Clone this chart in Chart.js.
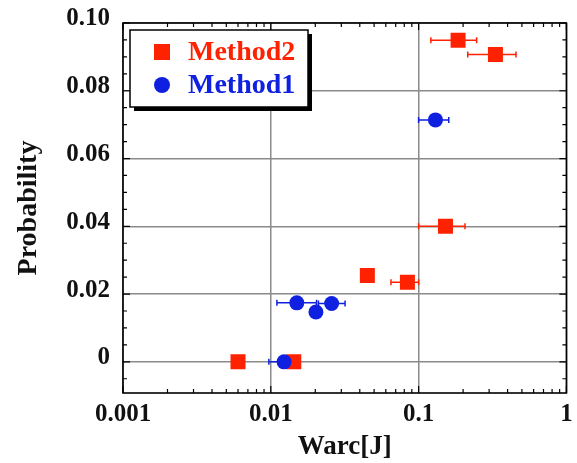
<!DOCTYPE html>
<html>
<head>
<meta charset="utf-8">
<script src="https://cdn.jsdelivr.net/npm/chart.js@4.4.0/dist/chart.umd.min.js"></script>
<style>
html, body { margin: 0; padding: 0; background: #fff; }
</style>
</head>
<body>
<canvas id="chart" width="577" height="463"></canvas>
<script>
// values
const method2X = [0.006, 0.0143, 0.045, 0.084, 0.152, 0.185, 0.331];
const method2Y = [0, 0, 0.0255, 0.0235, 0.040, 0.0949, 0.0907];
const method2XLow = [null, null, null, 0.065, 0.1, 0.121, 0.215];
const method2XHigh = [null, null, null, 0.1, 0.206, 0.247, 0.456];

const method1X = [0.0123, 0.0150, 0.0202, 0.0258, 0.130];
const method1Y = [0, 0.0174, 0.0147, 0.0172, 0.0714];
const method1XLow = [0.0097, 0.011, null, 0.021, 0.1];
const method1XHigh = [0.0155, 0.0204, null, 0.0318, 0.160];

const xTickValues = [0.001, 0.01, 0.1, 1];
const xTickLabels = ['0.001', '0.01', '0.1', '1'];
const yTickValues = [0, 0.02, 0.04, 0.06, 0.08, 0.10];
const yTickLabels = ['0', '0.02', '0.04', '0.06', '0.08', '0.10'];

const RED = '#ff2200';
const BLUE = '#1020e0';
const SERIF = "'Times New Roman', 'Liberation Serif', serif";

function toPoints(xs, ys, lo, hi) {
    return xs.map((x, i) => ({ x: x, y: ys[i], xLow: lo[i], xHigh: hi[i] }));
}

// horizontal error bars, drawn under the markers
const errorBars = {
    id: 'errorBars',
    beforeDatasetsDraw(chart) {
        const ctx = chart.ctx;
        const xs = chart.scales.x, ys = chart.scales.y;
        chart.data.datasets.forEach(ds => {
            ctx.save();
            ctx.strokeStyle = ds.borderColor;
            ctx.lineWidth = 1.5;
            ds.data.forEach(p => {
                const py = ys.getPixelForValue(p.y);
                const px = xs.getPixelForValue(p.x);
                [p.xLow, p.xHigh].forEach(v => {
                    if (v == null) return;
                    const ex = xs.getPixelForValue(v);
                    ctx.beginPath();
                    ctx.moveTo(px, py);
                    ctx.lineTo(ex, py);
                    ctx.moveTo(ex, py - 3);
                    ctx.lineTo(ex, py + 3);
                    ctx.stroke();
                });
            });
            ctx.restore();
        });
    }
};

// frame with inward ticks on all four sides
const frameTicks = {
    id: 'frameTicks',
    afterDraw(chart) {
        const ctx = chart.ctx;
        const a = chart.chartArea;
        const xs = chart.scales.x, ys = chart.scales.y;
        ctx.save();
        ctx.strokeStyle = '#000';
        ctx.lineWidth = 1.2;
        ctx.beginPath();
        for (let d = 0.001; d < 1; d *= 10) {
            for (let m = 1; m <= 10; m++) {
                const v = d * m;
                const len = (m === 1 || m === 10) ? 7 : 4;
                const px = xs.getPixelForValue(v);
                ctx.moveTo(px, a.bottom); ctx.lineTo(px, a.bottom - len);
                ctx.moveTo(px, a.top); ctx.lineTo(px, a.top + len);
            }
        }
        for (let k = -1; k <= 20; k++) {
            const v = k * 0.005;
            const len = (k % 4 === 0) ? 7 : 4;
            const py = ys.getPixelForValue(v);
            if (py > a.bottom || py < a.top) continue;
            ctx.moveTo(a.left, py); ctx.lineTo(a.left + len, py);
            ctx.moveTo(a.right, py); ctx.lineTo(a.right - len, py);
        }
        ctx.stroke();
        ctx.lineWidth = 1.6;
        ctx.strokeRect(a.left, a.top, a.right - a.left, a.bottom - a.top);
        ctx.restore();
    }
};

// boxed legend with shadow inside the plot
const boxLegend = {
    id: 'boxLegend',
    afterDraw(chart) {
        const ctx = chart.ctx;
        const bx = 130, by = 30, bw = 178, bh = 77;
        ctx.save();
        ctx.fillStyle = '#000';
        ctx.fillRect(bx + 4, by + 4, bw, bh);
        ctx.fillStyle = '#fff';
        ctx.fillRect(bx, by, bw, bh);
        ctx.strokeStyle = '#000';
        ctx.lineWidth = 1.5;
        ctx.strokeRect(bx, by, bw, bh);
        const order = [1, 0];
        order.forEach((di, row) => {
            const ds = chart.data.datasets[di];
            const cy = by + 22 + row * 33;
            ctx.fillStyle = ds.backgroundColor;
            ctx.beginPath();
            if (ds.pointStyle === 'rect') {
                ctx.rect(bx + 24, cy - 8, 16, 16);
            } else {
                ctx.arc(bx + 32, cy, 8, 0, Math.PI * 2);
            }
            ctx.fill();
            ctx.font = 'bold 28px ' + SERIF;
            ctx.textBaseline = 'middle';
            ctx.fillStyle = ds.borderColor;
            ctx.fillText(ds.label, bx + 58, cy + 1);
        });
        ctx.restore();
    }
};

new Chart(document.getElementById('chart'), {
    type: 'scatter',
    data: {
        datasets: [{
            label: 'Method1',
            data: toPoints(method1X, method1Y, method1XLow, method1XHigh),
            pointStyle: 'circle',
            pointRadius: 7.5,
            backgroundColor: BLUE,
            borderColor: BLUE,
            borderWidth: 0
        }, {
            label: 'Method2',
            data: toPoints(method2X, method2Y, method2XLow, method2XHigh),
            pointStyle: 'rect',
            pointRadius: 10.6,
            backgroundColor: RED,
            borderColor: RED,
            borderWidth: 0
        }]
    },
    options: {
        responsive: false,
        animation: false,
        devicePixelRatio: 1,
        layout: { padding: { top: 23, right: 9, left: 0, bottom: 0 } },
        plugins: {
            legend: { display: false },
            tooltip: { enabled: false }
        },
        scales: {
            x: {
                type: 'logarithmic',
                min: 0.001,
                max: 1,
                afterBuildTicks: s => { s.ticks = xTickValues.map(v => ({ value: v })); },
                afterFit: s => { s.height = 70; s.paddingLeft = 0; s.paddingRight = 0; },
                grid: { color: '#8a8a8a', lineWidth: 1.5, drawTicks: false },
                border: { display: false },
                ticks: {
                    padding: 7,
                    maxRotation: 0,
                    color: '#111',
                    font: { family: SERIF, size: 25, weight: 'bold' },
                    callback: (v, i) => xTickLabels[i]
                },
                title: {
                    display: true,
                    text: 'Warc[J]',
                    color: '#111',
                    padding: { top: 0, bottom: 0 },
                    font: { family: SERIF, size: 27, weight: 'bold' }
                }
            },
            y: {
                min: -0.0092,
                max: 0.1,
                afterBuildTicks: s => { s.ticks = yTickValues.map(v => ({ value: v })); },
                afterFit: s => { s.width = 123; s.paddingTop = 0; s.paddingBottom = 0; },
                grid: { color: '#8a8a8a', lineWidth: 1.5, drawTicks: false },
                border: { display: false },
                ticks: {
                    padding: 13,
                    labelOffset: -4,
                    color: '#111',
                    font: { family: SERIF, size: 25, weight: 'bold' },
                    callback: (v, i) => yTickLabels[i]
                },
                title: {
                    display: true,
                    text: 'Probability',
                    color: '#111',
                    padding: { top: 12, bottom: 0 },
                    font: { family: SERIF, size: 28, weight: 'bold' }
                }
            }
        }
    },
    plugins: [errorBars, frameTicks, boxLegend]
});
</script>
</body>
</html>
